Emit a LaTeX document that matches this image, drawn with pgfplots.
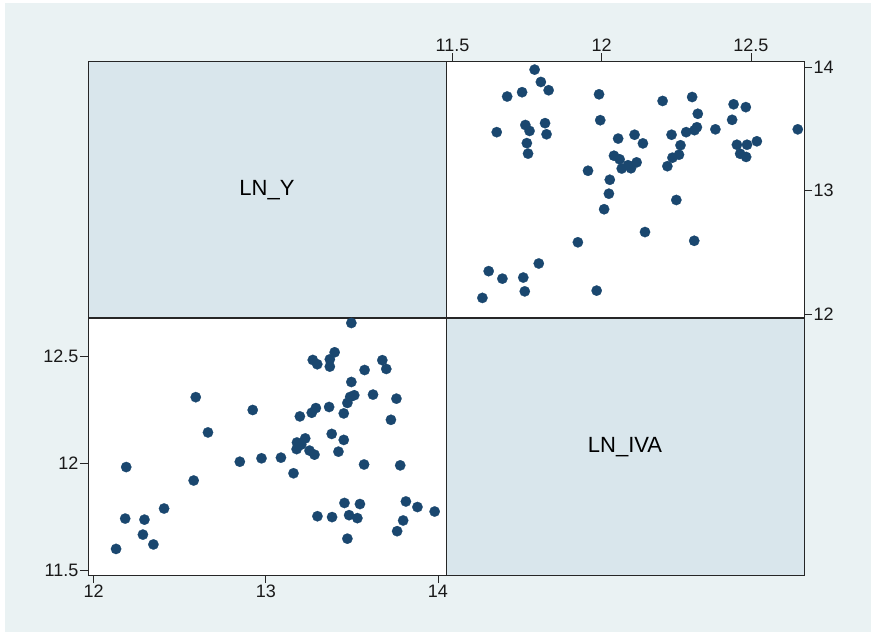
\documentclass[border=0pt]{standalone}
\usepackage{pgfplots}
\pgfplotsset{compat=1.18}
\usepackage{pgfplotstable}
\usepackage{fontspec}
\setmainfont{Liberation Sans}

\definecolor{outerbg}{HTML}{EAF2F3}
\definecolor{diagbg}{HTML}{D9E6EC}
\definecolor{stnavy}{HTML}{1A476F}

% LN_Y  LN_IVA
\pgfplotstableread{
lny     lniva
12.593  12.310
12.924  12.250
12.664  12.145
12.189  11.983
12.849  12.008
12.975  12.024
12.581  11.920
12.409  11.789
12.183  11.742
12.295  11.737
12.286  11.667
12.347  11.621
12.130  11.600
13.497  12.657
13.400  12.520
13.273  12.484
13.299  12.464
13.372  12.487
13.372  12.453
13.677  12.483
13.700  12.442
13.574  12.437
13.497  12.381
13.514  12.319
13.490  12.311
13.474  12.283
13.623  12.322
13.759  12.303
13.453  12.234
13.368  12.264
13.291  12.259
13.267  12.237
13.198  12.220
13.727  12.204
13.383  12.138
13.453  12.110
13.422  12.055
13.229  12.117
13.181  12.098
13.206  12.088
13.179  12.067
13.254  12.060
13.283  12.041
13.088  12.027
13.161  11.954
13.571  11.995
13.781  11.991
13.457  11.815
13.547  11.810
13.814  11.822
13.881  11.796
13.981  11.775
13.300  11.753
13.385  11.749
13.484  11.758
13.532  11.744
13.798  11.733
13.763  11.683
13.474  11.648
}\mydata

\pgfplotsset{
  cell/.style={
    scale only axis, width=358pt, height=256.5pt,
    anchor=south west,
    axis line style={draw=black!85, line width=1pt},
    tick style={draw=black!85, line width=0.8pt},
    major tick length=8pt, tick align=outside,
    ticklabel style={font=\fontsize{18}{18}\selectfont, text=black!90, inner sep=1.5pt},
  },
  diag/.style={
    cell, xtick=\empty, ytick=\empty,
    xmin=0, xmax=1, ymin=0, ymax=1,
    axis background/.style={fill=diagbg},
  },
  dots/.style={only marks, mark=*, mark size=5.2pt,
    mark options={fill=stnavy, draw=stnavy, line width=0.2pt}},
}

\begin{document}
\begin{tikzpicture}[x=1pt, y=1pt]
\fill[white] (0,0) rectangle (874,635);
\fill[outerbg] (5,3) rectangle (871,632);

% top-left: diagonal LN_Y
\begin{axis}[diag, at={(88pt,317pt)}]
  \node at (rel axis cs:0.5,0.5) {\fontsize{22}{22}\selectfont LN\_Y};
\end{axis}

% bottom-right: diagonal LN_IVA
\begin{axis}[diag, at={(446pt,60pt)}]
  \node at (rel axis cs:0.5,0.5) {\fontsize{22}{22}\selectfont LN\_IVA};
\end{axis}

% top-right: LN_Y vs LN_IVA
\begin{axis}[cell, at={(446pt,317pt)},
  axis background/.style={fill=white},
  xmin=11.478, xmax=12.678, ymin=11.967, ymax=14.047,
  xtick={11.5,12,12.5}, xticklabels={11.5,12,12.5},
  ytick={12,13,14}, yticklabels={12,13,14},
  xtick pos=right, xticklabel pos=right,
  ytick pos=right, yticklabel pos=right,
]
  \addplot[dots] table[x=lniva, y=lny] {\mydata};
\end{axis}

% bottom-left: LN_IVA vs LN_Y
\begin{axis}[cell, at={(88pt,60pt)},
  axis background/.style={fill=white},
  xmin=11.967, xmax=14.047, ymin=11.478, ymax=12.678,
  xtick={12,13,14}, xticklabels={12,13,14},
  ytick={11.5,12,12.5}, yticklabels={11.5,12,12.5},
  xtick pos=left, ytick pos=left,
]
  \addplot[dots] table[x=lny, y=lniva] {\mydata};
\end{axis}
\end{tikzpicture}
\end{document}
